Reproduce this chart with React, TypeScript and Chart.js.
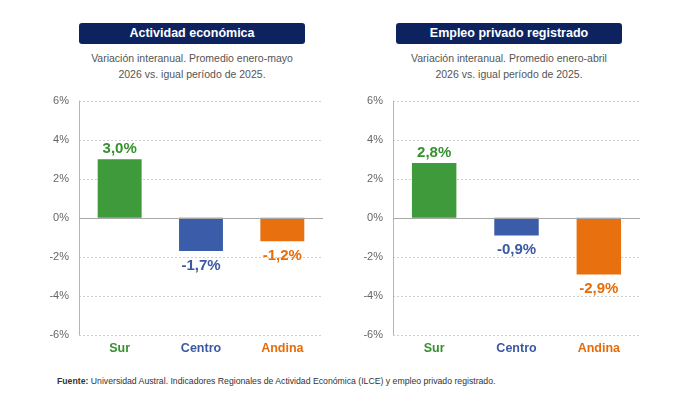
import React, { useEffect, useRef } from "react";
import { Chart, registerables } from "chart.js";

Chart.register(...registerables);

// Regions shown on both panels
const regions = ["Sur", "Centro", "Andina"];
// Actividad económica: variación interanual (%), promedio enero-mayo
const activityValues = [3.0, -1.7, -1.2];
// Empleo privado registrado: variación interanual (%), promedio enero-abril
const employmentValues = [2.8, -0.9, -2.9];
// Y axis ticks (%)
const yTicks = [-6, -4, -2, 0, 2, 4, 6];

const regionColors = ["#3e9a3b", "#3b5ca8", "#e8700e"];
const labelColors = ["#37902f", "#3a58a3", "#e66c0a"];

const FONT = "'Liberation Sans', Arial, Helvetica, sans-serif";

const fmt = (v: number) => v.toFixed(1).replace(".", ",") + "%";

// Dotted grid, solid y axis line, solid zero line
const gridPlugin = {
  id: "customGrid",
  beforeDatasetsDraw(chart: any) {
    const { ctx, chartArea } = chart;
    const y = chart.scales.y;
    ctx.save();
    ctx.lineWidth = 1;
    ctx.strokeStyle = "#cfcfcf";
    ctx.setLineDash([2, 2]);
    yTicks.forEach((v) => {
      if (v === 0) return;
      const py = Math.round(y.getPixelForValue(v)) + 0.5;
      ctx.beginPath();
      ctx.moveTo(chartArea.left, py);
      ctx.lineTo(chartArea.right, py);
      ctx.stroke();
    });
    ctx.setLineDash([]);
    ctx.strokeStyle = "#b5b5b5";
    const px = Math.round(chartArea.left) + 0.5;
    ctx.beginPath();
    ctx.moveTo(px, y.getPixelForValue(6));
    ctx.lineTo(px, y.getPixelForValue(-6));
    ctx.stroke();
    ctx.restore();
  },
  afterDatasetsDraw(chart: any) {
    const { ctx, chartArea } = chart;
    const y = chart.scales.y;
    ctx.save();
    ctx.strokeStyle = "#a8a8a8";
    ctx.lineWidth = 1.2;
    const py = Math.round(y.getPixelForValue(0)) + 0.5;
    ctx.beginPath();
    ctx.moveTo(chartArea.left, py);
    ctx.lineTo(chartArea.right, py);
    ctx.stroke();
    ctx.restore();
  },
};

// Value labels at the bar tips
const valueLabelPlugin = {
  id: "valueLabels",
  afterDatasetsDraw(chart: any) {
    const { ctx } = chart;
    const meta = chart.getDatasetMeta(0);
    const data = chart.data.datasets[0].data as number[];
    ctx.save();
    ctx.font = `bold 15px ${FONT}`;
    ctx.textAlign = "center";
    meta.data.forEach((bar: any, i: number) => {
      const v = data[i];
      ctx.fillStyle = labelColors[i];
      if (v >= 0) {
        ctx.textBaseline = "bottom";
        ctx.fillText(fmt(v), bar.x, bar.y - 3);
      } else {
        ctx.textBaseline = "top";
        ctx.fillText(fmt(v), bar.x, bar.y + 7);
      }
    });
    ctx.restore();
  },
};

type PanelProps = {
  values: number[];
  left: number;
  padRight: number;
};

function BarPanel({ values, left, padRight }: PanelProps) {
  const ref = useRef<HTMLCanvasElement>(null);
  useEffect(() => {
    if (!ref.current) return;
    const chart = new Chart(ref.current, {
      type: "bar",
      data: {
        labels: regions,
        datasets: [
          {
            data: values,
            backgroundColor: regionColors,
            borderWidth: 0,
            barPercentage: 0.54,
            categoryPercentage: 1,
          },
        ],
      },
      options: {
        animation: false,
        responsive: false,
        maintainAspectRatio: false,
        layout: { padding: { top: 7, right: padRight, bottom: 0, left: 0 } },
        plugins: { legend: { display: false }, tooltip: { enabled: false } },
        scales: {
          x: {
            grid: { display: false, drawTicks: false },
            border: { display: false },
            ticks: {
              padding: 6,
              color: (c: any) => labelColors[c.index],
              font: { family: FONT, size: 12.5, weight: "bold" },
            },
            afterFit: (s: any) => {
              s.height = 25;
            },
          },
          y: {
            min: -6,
            max: 6,
            grid: { display: false, drawTicks: false },
            border: { display: false },
            afterBuildTicks: (s: any) => {
              s.ticks = yTicks.map((v) => ({ value: v }));
            },
            ticks: {
              padding: 10,
              color: "#666",
              font: { family: FONT, size: 11 },
              callback: (v: any) => `${v}%`,
            },
            afterFit: (s: any) => {
              s.width = 49;
            },
          },
        },
      },
      plugins: [gridPlugin, valueLabelPlugin],
    });
    return () => chart.destroy();
  }, [values, padRight]);

  return (
    <canvas
      ref={ref}
      width={300}
      height={276}
      style={{ position: "absolute", left, top: 84, width: 300, height: 276 }}
    />
  );
}

function Header({ title, subtitle, boxLeft }: { title: string; subtitle: string[]; boxLeft: number }) {
  return (
    <>
      <div
        style={{
          position: "absolute",
          left: boxLeft,
          top: 23,
          width: 226,
          height: 21,
          background: "#0c2360",
          borderRadius: 3,
          color: "#fff",
          font: `bold 12.5px ${FONT}`,
          lineHeight: "21px",
          textAlign: "center",
        }}
      >
        {title}
      </div>
      <div
        style={{
          position: "absolute",
          left: boxLeft - 20,
          top: 50,
          width: 266,
          color: "#555",
          font: `10.5px ${FONT}`,
          lineHeight: "16px",
          textAlign: "center",
        }}
      >
        {subtitle.map((s, i) => (
          <div key={i}>{s}</div>
        ))}
      </div>
    </>
  );
}

export default function App() {
  return (
    <div
      style={{
        position: "absolute",
        left: 0,
        top: 0,
        width: 700,
        height: 404,
        background: "#ffffff",
        overflow: "hidden",
      }}
    >
      <Header
        title="Actividad económica"
        subtitle={["Variación interanual. Promedio enero-mayo", "2026 vs. igual período de 2025."]}
        boxLeft={79}
      />
      <Header
        title="Empleo privado registrado"
        subtitle={["Variación interanual. Promedio enero-abril", "2026 vs. igual período de 2025."]}
        boxLeft={396}
      />
      <BarPanel values={activityValues} left={30} padRight={7} />
      <BarPanel values={employmentValues} left={344} padRight={4} />
      <div
        style={{
          position: "absolute",
          left: 57,
          top: 375,
          color: "#333",
          font: `8.7px ${FONT}`,
          lineHeight: "12px",
          whiteSpace: "nowrap",
        }}
      >
        <b>Fuente:</b> Universidad Austral. Indicadores Regionales de Actividad Económica (ILCE) y empleo privado
        registrado.
      </div>
    </div>
  );
}
